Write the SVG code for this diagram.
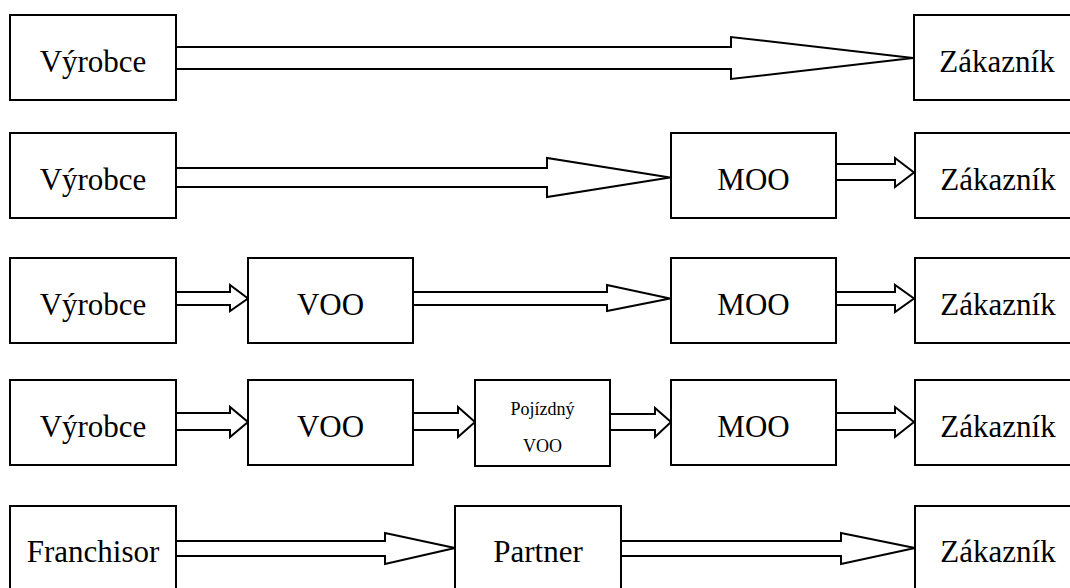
<svg xmlns="http://www.w3.org/2000/svg" width="1070" height="588" viewBox="0 0 1070 588">
  <style>
    .box { fill: #ffffff; stroke: #000000; stroke-width: 2; }
    .arrow { fill: #ffffff; stroke: #000000; stroke-width: 2; stroke-linejoin: miter; }
    .lbl { font-family: "Liberation Serif", "Times New Roman", serif; font-size: 31px; fill: #000000; text-anchor: middle; }
    .sm { font-size: 18px; }
  </style>
  <rect x="0" y="0" width="1070" height="588" fill="#ffffff"/>

  <!-- block arrows between the stages -->
  <g id="connectors">
    <!-- row 1 -->
    <polygon class="arrow" points="176,47 731,47 731,37 913,58 731,79 731,69 176,69"/>
    <!-- row 2 -->
    <polygon class="arrow" points="176,168 547,168 547,158 670,177.5 547,197 547,187 176,187"/>
    <polygon class="arrow" points="836,164 895,164 895,158 914,172.5 895,187 895,180 836,180"/>
    <!-- row 3 -->
    <polygon class="arrow" points="176,292 230,292 230,285 248,298.5 230,311 230,305 176,305"/>
    <polygon class="arrow" points="413,292 607,292 607,285 670,298.5 607,311 607,305 413,305"/>
    <polygon class="arrow" points="836,292 895,292 895,285 914,298.5 895,312 895,305 836,305"/>
    <!-- row 4 -->
    <polygon class="arrow" points="176,413 230,413 230,407 248,422 230,437 230,430 176,430"/>
    <polygon class="arrow" points="413,413 458,413 458,407 475,422 458,437 458,430 413,430"/>
    <polygon class="arrow" points="610,414 655,414 655,408 671,422 655,437 655,430 610,430"/>
    <polygon class="arrow" points="836,413 895,413 895,407 914,422 895,437 895,430 836,430"/>
    <!-- row 5 -->
    <polygon class="arrow" points="176,541 385,541 385,533 455,548 385,564 385,556 176,556"/>
    <polygon class="arrow" points="621,541 841,541 841,533 915,548 841,564 841,556 621,556"/>
  </g>

  <!-- row 1 -->
  <g id="r1-vyrobce"><rect class="box" x="10" y="15" width="166" height="85"/><text class="lbl" x="93" y="72">Výrobce</text></g>
  <g id="r1-zakaznik"><rect class="box" x="914" y="15" width="166" height="85"/><text class="lbl" x="997" y="72">Zákazník</text></g>

  <!-- row 2 -->
  <g id="r2-vyrobce"><rect class="box" x="10" y="133" width="166" height="85"/><text class="lbl" x="93" y="190">Výrobce</text></g>
  <g id="r2-moo"><rect class="box" x="671" y="133" width="165" height="85"/><text class="lbl" x="753.5" y="190">MOO</text></g>
  <g id="r2-zakaznik"><rect class="box" x="915" y="133" width="166" height="85"/><text class="lbl" x="998" y="190">Zákazník</text></g>

  <!-- row 3 -->
  <g id="r3-vyrobce"><rect class="box" x="10" y="258" width="166" height="85"/><text class="lbl" x="93" y="315">Výrobce</text></g>
  <g id="r3-voo"><rect class="box" x="248" y="258" width="165" height="85"/><text class="lbl" x="330.5" y="315">VOO</text></g>
  <g id="r3-moo"><rect class="box" x="671" y="258" width="165" height="85"/><text class="lbl" x="753.5" y="315">MOO</text></g>
  <g id="r3-zakaznik"><rect class="box" x="915" y="258" width="166" height="85"/><text class="lbl" x="998" y="315">Zákazník</text></g>

  <!-- row 4 -->
  <g id="r4-vyrobce"><rect class="box" x="10" y="380" width="166" height="85"/><text class="lbl" x="93" y="437">Výrobce</text></g>
  <g id="r4-voo"><rect class="box" x="248" y="380" width="165" height="85"/><text class="lbl" x="330.5" y="437">VOO</text></g>
  <g id="r4-pojizdny-voo"><rect class="box" x="475" y="380" width="135" height="86"/><text class="lbl sm" x="542.5" y="415">Pojízdný</text><text class="lbl sm" x="542.5" y="452">VOO</text></g>
  <g id="r4-moo"><rect class="box" x="671" y="380" width="165" height="85"/><text class="lbl" x="753.5" y="437">MOO</text></g>
  <g id="r4-zakaznik"><rect class="box" x="915" y="380" width="166" height="85"/><text class="lbl" x="998" y="437">Zákazník</text></g>

  <!-- row 5 -->
  <g id="r5-franchisor"><rect class="box" x="10" y="506" width="166" height="85"/><text class="lbl" x="93" y="562">Franchisor</text></g>
  <g id="r5-partner"><rect class="box" x="455" y="506" width="166" height="85"/><text class="lbl" x="538" y="562">Partner</text></g>
  <g id="r5-zakaznik"><rect class="box" x="915" y="506" width="166" height="85"/><text class="lbl" x="998" y="562">Zákazník</text></g>
</svg>
